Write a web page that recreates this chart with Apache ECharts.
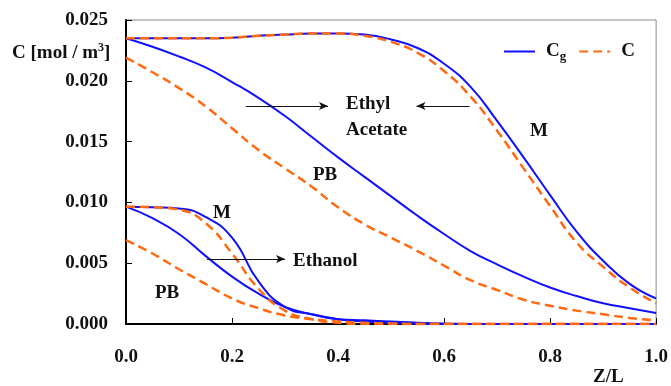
<!DOCTYPE html>
<html>
<head>
<meta charset="utf-8">
<script src="https://cdn.jsdelivr.net/npm/echarts@6/dist/echarts.min.js"></script>
<style>
  html, body { margin: 0; padding: 0; background: #fff; }
  #main { width: 671px; height: 386px; }
</style>
</head>
<body>
<div id="main"></div>
<script>
// Z/L positions shared by all curves
const zl = [0, 0.05, 0.1, 0.15, 0.2, 0.25, 0.3, 0.35, 0.4, 0.45, 0.5,
            0.55, 0.6, 0.65, 0.7, 0.75, 0.8, 0.85, 0.9, 0.95, 1.0];

// ethyl acetate
const eaM_Cg = [0.0235, 0.0235, 0.0235, 0.0235, 0.02355, 0.0237, 0.0238, 0.0239, 0.0239, 0.0238, 0.0234,
                0.0227, 0.0214, 0.0195, 0.0167, 0.0137, 0.0106, 0.0076, 0.0052, 0.0033, 0.0021];
const eaM_C  = [0.0235, 0.0235, 0.0235, 0.0235, 0.02355, 0.0237, 0.0238, 0.0239, 0.0239, 0.0237, 0.0232,
                0.0223, 0.0208, 0.0187, 0.0159, 0.0128, 0.0097, 0.0067, 0.0047, 0.0030, 0.0017];
const eaPB_Cg = [0.0235, 0.0228, 0.0220, 0.0211, 0.0199, 0.0186, 0.0171, 0.0154, 0.0137, 0.0121, 0.0105,
                 0.0089, 0.0074, 0.0060, 0.0049, 0.0039, 0.0030, 0.0023, 0.0017, 0.0013, 0.0009];
const eaPB_C  = [0.0219, 0.0207, 0.0194, 0.0179, 0.0161, 0.0143, 0.0128, 0.0113, 0.0096, 0.0082, 0.0071,
                 0.0060, 0.0048, 0.0036, 0.0028, 0.0020, 0.0015, 0.0011, 0.0008, 0.0005, 0.0003];

// ethanol
const etM_Cg = [0.00965, 0.0096, 0.0095, 0.0088, 0.0071, 0.0035, 0.0014, 0.0008, 0.0004, 0.0002, 0.0001,
                0.00003, 0, 0, 0, 0, 0, 0, 0, 0, 0];
const etM_C  = [0.00965, 0.0096, 0.0094, 0.0083, 0.0058, 0.0029, 0.0011, 0.0004, 0.0001, 0, 0,
                0, 0, 0, 0, 0, 0, 0, 0, 0, 0];
const etPB_Cg = [0.00965, 0.0087, 0.0074, 0.0056, 0.0039, 0.0025, 0.0014, 0.0008, 0.0004, 0.0003, 0.0002,
                 0.0001, 0.00005, 0, 0, 0, 0, 0, 0, 0, 0];
const etPB_C  = [0.0069, 0.0058, 0.0045, 0.0033, 0.0021, 0.0013, 0.0007, 0.0004, 0.0002, 0.0001, 0.00005,
                 0, 0, 0, 0, 0, 0, 0, 0, 0, 0];

const BLUE = '#1010ff';
const ORANGE = '#ff6a10';
const FONT = "'Liberation Serif', 'Times New Roman', serif";

function curve(name, ys, dashed) {
  const color = dashed ? ORANGE : BLUE;
  return {
    name: name,
    type: 'line',
    data: zl.map((x, i) => [x, ys[i]]),
    symbol: 'none',
    showSymbol: false,
    smooth: 0.5,
    lineStyle: { color: color, width: dashed ? 2.5 : 2, type: dashed ? [9, 5] : 'solid' },
    itemStyle: { color: color },
    z: dashed ? 3 : 2
  };
}

function arrow(x1, x2, y) {
  return [
    { coord: [x1, y], symbol: 'none' },
    { coord: [x2, y], symbol: 'arrow', symbolSize: [6, 9] }
  ];
}

const txt = (left, top, text) => ({
  type: 'text', left: left, top: top,
  style: { text: text, font: 'bold 19px ' + FONT, fill: '#111' }
});

const series = [
  curve('Cg', eaM_Cg, false),
  curve('C', eaM_C, true),
  curve('Cg', eaPB_Cg, false),
  curve('C', eaPB_C, true),
  curve('Cg', etM_Cg, false),
  curve('C', etM_C, true),
  curve('Cg', etPB_Cg, false),
  curve('C', etPB_C, true)
];

// annotation arrows
series[0].markLine = {
  silent: true,
  animation: false,
  label: { show: false },
  lineStyle: { color: '#111', width: 1.2, type: 'solid' },
  data: [
    arrow(0.226, 0.381, 0.01793),
    arrow(0.648, 0.548, 0.01793),
    arrow(0.153, 0.300, 0.00535)
  ]
};

const option = {
  animation: false,
  grid: {
    left: 126, right: 14, top: 20, bottom: 62,
    show: true, borderColor: '#888', borderWidth: 1
  },
  legend: {
    data: ['Cg', 'C'],
    left: 498, top: 37,
    itemWidth: 31, itemHeight: 14, itemGap: 12,
    itemStyle: { opacity: 0 },
    formatter: n => n === 'Cg' ? '{n|C}{s|g}' : '{n|C}',
    textStyle: {
      padding: [0, 0, 0, 6],
      rich: {
        n: { fontFamily: FONT, fontWeight: 'bold', fontSize: 19, color: '#111' },
        s: { fontFamily: FONT, fontWeight: 'bold', fontSize: 13, color: '#111', padding: [10, 0, 0, 0] }
      }
    }
  },
  xAxis: {
    type: 'value', min: 0, max: 1, interval: 0.2,
    axisLine: { lineStyle: { color: '#000', width: 2 } },
    axisTick: { inside: true, length: 6, lineStyle: { color: '#000', width: 1 } },
    splitLine: { show: false },
    axisLabel: {
      margin: 24,
      formatter: v => v.toFixed(1),
      fontFamily: FONT, fontWeight: 'bold', fontSize: 19, color: '#111'
    }
  },
  yAxis: {
    type: 'value', min: 0, max: 0.025, interval: 0.005,
    axisLine: { show: true, lineStyle: { color: '#000', width: 2 } },
    axisTick: { show: true, inside: true, length: 6, lineStyle: { color: '#000', width: 1 } },
    splitLine: { show: false },
    axisLabel: {
      margin: 18,
      formatter: v => v.toFixed(3),
      fontFamily: FONT, fontWeight: 'bold', fontSize: 19, color: '#111'
    }
  },
  graphic: [
    {
      type: 'text', left: 12, top: 42,
      style: {
        text: '{n|C [mol / m}{s|3}{n|]}',
        rich: {
          n: { font: 'bold 19px ' + FONT, fill: '#111' },
          s: { font: 'bold 12px ' + FONT, fill: '#111', padding: [0, 0, 10, 0] }
        }
      }
    },
    txt(593, 368, 'Z/L'),
    txt(346, 95, 'Ethyl'),
    txt(346, 121, 'Acetate'),
    txt(530, 122, 'M'),
    txt(313, 166, 'PB'),
    txt(293, 252, 'Ethanol'),
    txt(213, 204, 'M'),
    txt(155, 284, 'PB')
  ],
  series: series
};

const chart = echarts.init(document.getElementById('main'), null, { renderer: 'canvas' });
chart.setOption(option);
window.addEventListener('resize', () => chart.resize());
</script>
</body>
</html>
